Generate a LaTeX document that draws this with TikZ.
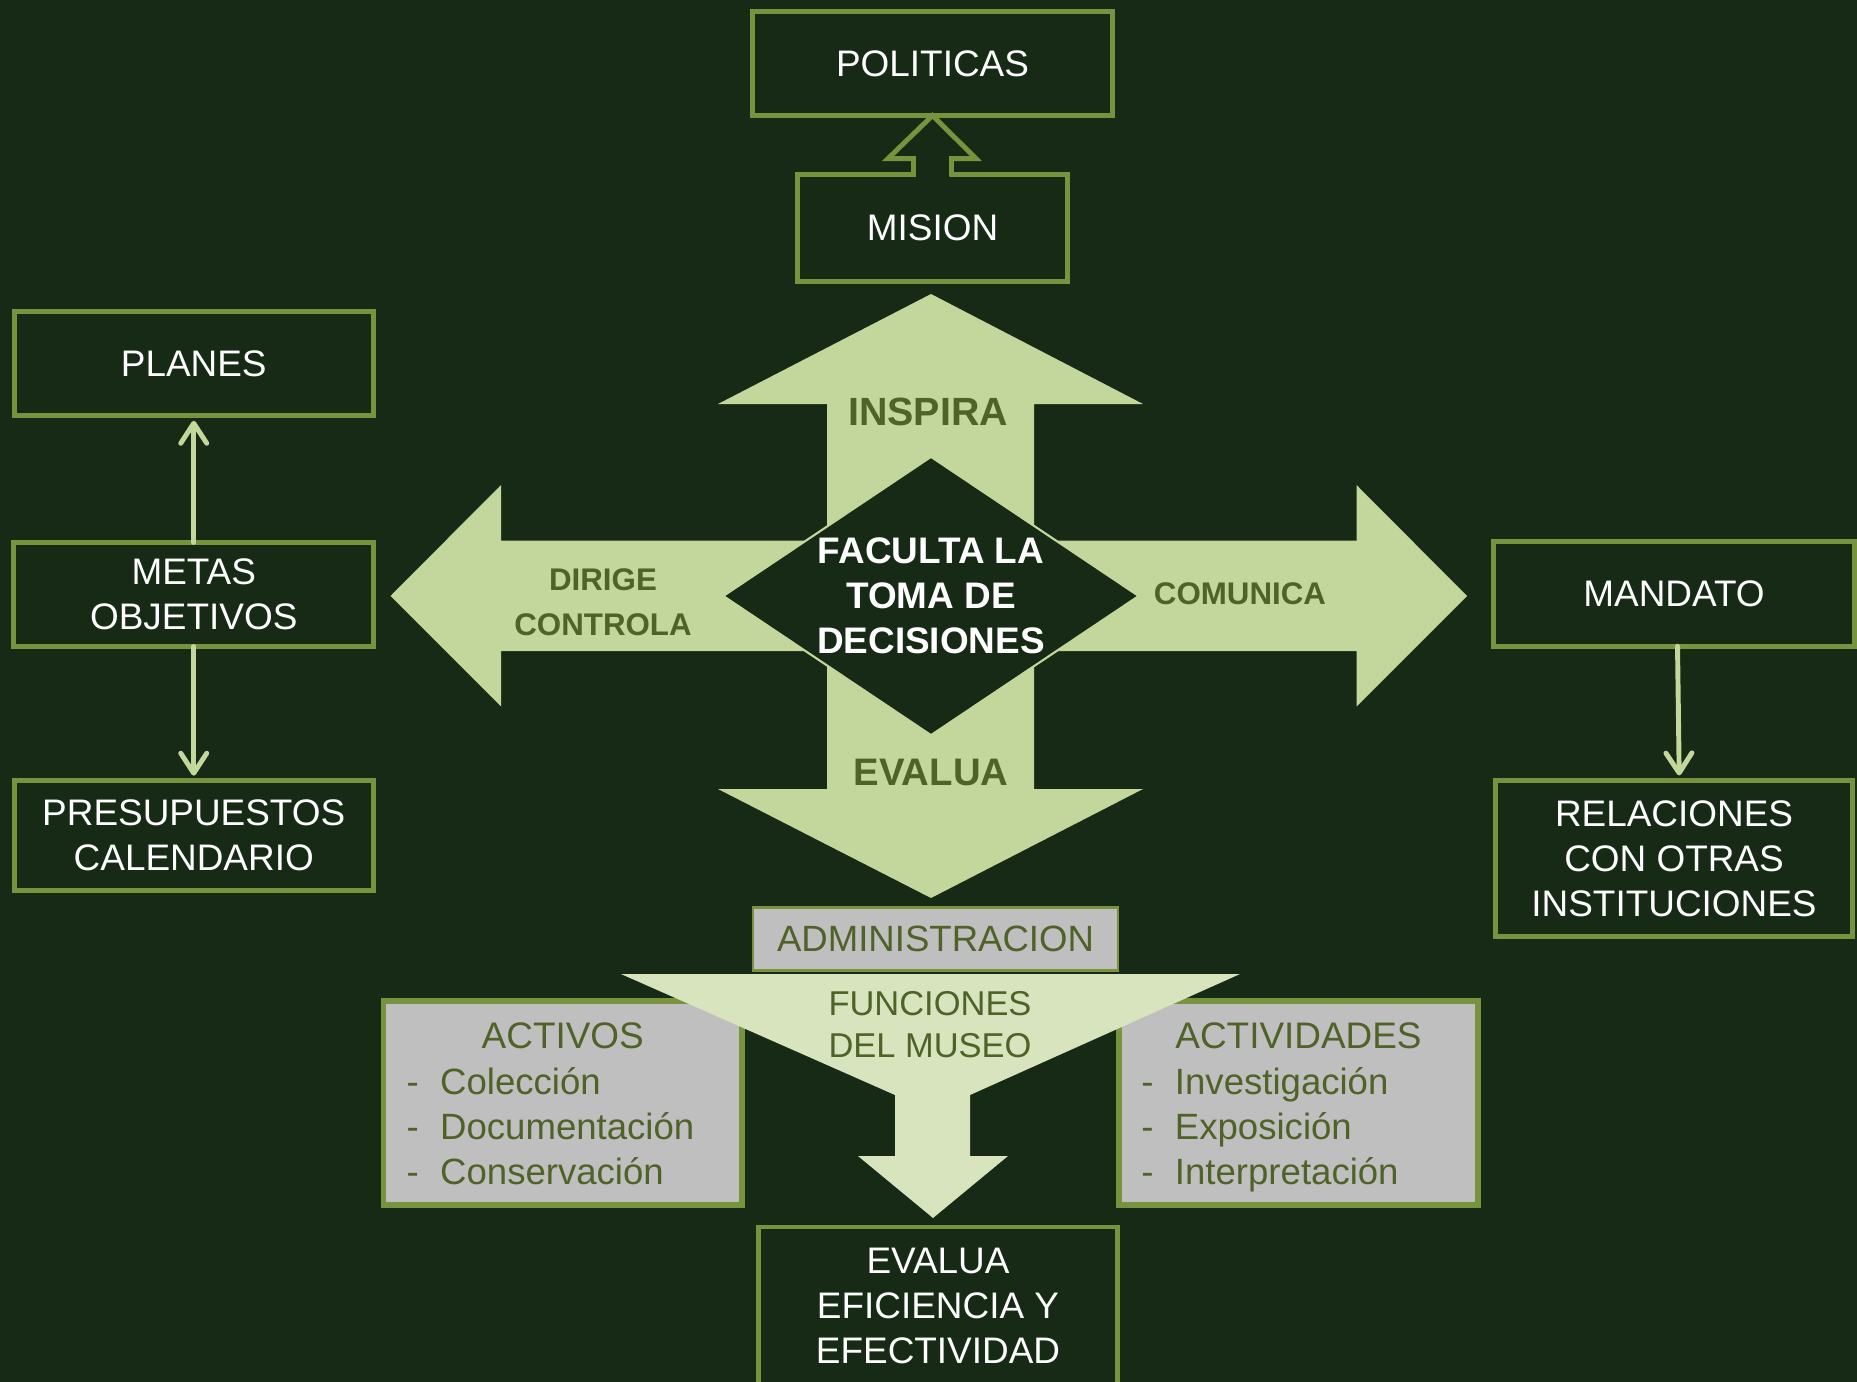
\documentclass[tikz,border=0pt]{standalone}
\usepackage{fontspec}
\setmainfont{Liberation Sans}
\usepackage{xcolor}
\definecolor{bgdark}{RGB}{22,42,22}
\definecolor{olivegreen}{RGB}{119,147,61}
\definecolor{arrowgreen}{RGB}{195,214,155}
\definecolor{funnelgreen}{RGB}{215,228,189}
\definecolor{boxgray}{RGB}{191,191,191}
\definecolor{olivetext}{RGB}{79,98,40}
\usepackage{tikz}
\usetikzlibrary{shapes.geometric,arrows.meta,positioning,calc}

\begin{document}
\begin{tikzpicture}[x=0.01cm,y=-0.01cm,>={Straight Barb[length=2mm,width=2.6mm,round]}]
  \tikzstyle{darkbox}=[rectangle,draw=olivegreen,line width=1.4pt,fill=bgdark,text=white,align=center,inner sep=0pt,outer sep=0pt,font=\fontsize{10.5}{12.8}\selectfont]
  \tikzstyle{graybox}=[rectangle,draw=olivegreen,line width=1.6pt,fill=boxgray,inner sep=0pt,outer sep=0pt,minimum width=3.585cm,minimum height=2.04cm]
  \tikzstyle{arrowlbl}=[text=olivetext,align=center,inner sep=0pt,font=\bfseries\fontsize{8.9}{12.8}\selectfont]
  \tikzstyle{graytxt}=[text=olivetext,inner sep=0pt,font=\fontsize{10.4}{12.8}\selectfont]
  \tikzstyle{link}=[draw=arrowgreen,line width=1.4pt,line cap=round,shorten >=1.4pt]
  \tikzstyle{hollowarrow}=[draw=olivegreen,line width=1.4pt,line join=miter]

  \path[use as bounding box,fill=bgdark] (0,0) rectangle (1857,1382);

  \fill[arrowgreen] (827,596) -- (827,404) -- (718,404) -- (931,294) -- (1143,404) -- (1034,404) -- (1034,596) -- cycle;
  \fill[arrowgreen] (827,596) -- (827,789) -- (718,789) -- (931,898) -- (1143,789) -- (1034,789) -- (1034,596) -- cycle;
  \fill[arrowgreen] (931,540.5) -- (501,540.5) -- (501,485) -- (390.5,596) -- (501,706.5) -- (501,651) -- (931,651) -- cycle;
  \fill[arrowgreen] (931,540.5) -- (1356.5,540.5) -- (1356.5,485) -- (1467,596) -- (1356.5,706.5) -- (1356.5,651) -- (931,651) -- cycle;

  \node[diamond,fill=bgdark,draw=arrowgreen,line width=0.6pt,inner sep=0pt,minimum width=4.16cm,minimum height=2.79cm,shape aspect=1.5,text=white,align=center,font=\bfseries\fontsize{10.5}{12.8}\selectfont] (toma) at (931,596) {FACULTA LA\\TOMA DE\\DECISIONES};

  \node[arrowlbl,font=\bfseries\fontsize{11.2}{13}\selectfont] (inspira) at (928,412) {INSPIRA};
  \node[arrowlbl,font=\bfseries\fontsize{10.9}{13}\selectfont] (evalualbl) at (931,772) {EVALUA};
  \node[arrowlbl] (dirige) at (603,602) {DIRIGE\\CONTROLA};
  \node[arrowlbl] (comunica) at (1240,594) {COMUNICA};

  \node[darkbox,minimum width=3.59cm,minimum height=1.04cm] (politicas) at (932.5,63.5) {POLITICAS};
  \node[darkbox,minimum width=2.69cm,minimum height=1.07cm,below=0.59cm of politicas] (mision) {MISION};

  \node[darkbox,minimum width=3.595cm,minimum height=1.04cm] (metas) at (193.75,594.5) {METAS\\OBJETIVOS};
  \node[darkbox,minimum width=3.59cm,minimum height=1.04cm,above=1.265cm of metas] (planes) {PLANES};
  \node[darkbox,minimum width=3.59cm,minimum height=1.10cm,below=1.34cm of metas] (presup) {PRESUPUESTOS\\CALENDARIO};

  \node[darkbox,minimum width=3.60cm,minimum height=1.045cm] (mandato) at (1674,594) {MANDATO};
  \node[darkbox,minimum width=3.57cm,minimum height=1.56cm,below=1.34cm of mandato] (relac) {RELACIONES\\CON OTRAS\\INSTITUCIONES};

  \fill[bgdark] ($(mision.north)+(-17,-3)$) rectangle ($(mision.north)+(17,4)$);
  \draw[hollowarrow] ($(mision.north)+(19,2)$) -- ++(0,-18) -- ++(24.5,0) -- (politicas.south) -- ($(mision.north)+(-44.5,-16)$) -- ++(25.5,0) -- ++(0,18);

  \draw[link,->] (metas.north) -- (planes.south);
  \draw[link,->] (metas.south) -- (presup.north);
  \draw[link,->] ([xshift=1pt]mandato.south) -- ([xshift=1.5pt]relac.north);

  \node[graybox] (activos) at (562.75,1103) {};
  \node[graybox] (activid) at (1298.5,1103) {};
  \node[graytxt,font=\fontsize{10.5}{12.8}\selectfont,below=0.215cm of activos.north] (activostit) {ACTIVOS};
  \node[graytxt,font=\fontsize{10.5}{12.8}\selectfont,below=0.215cm of activid.north] (actividtit) {ACTIVIDADES};
  \node[graytxt,align=left,anchor=north west] (activoslst) at ($(activos.north west)+(22.5,65.5)$) {-\hspace{6.1pt}Colección\\-\hspace{6.1pt}Documentación\\-\hspace{6.1pt}Conservación};
  \node[graytxt,align=left,anchor=north west] (actividlst) at ($(activid.north west)+(21.5,65.5)$) {-\hspace{6.1pt}Investigación\\-\hspace{6.1pt}Exposición\\-\hspace{6.1pt}Interpretación};

  \fill[funnelgreen] (621,974) -- (1240,974) -- (970,1095) -- (970,1156) -- (1008,1156) -- (933,1218) -- (858,1156) -- (895,1156) -- (895,1095) -- cycle;
  \node[graytxt,align=center,font=\fontsize{9.8}{11.9}\selectfont] (funciones) at (930,1025) {FUNCIONES\\DEL MUSEO};

  \node[rectangle,draw=olivegreen,line width=0.6pt,fill=boxgray,minimum width=3.65cm,minimum height=0.63cm,inner sep=0pt,text=olivetext,font=\fontsize{10.4}{12.8}\selectfont] (admin) at (935.5,939) {ADMINISTRACION};

  \node[darkbox,minimum width=3.58cm,minimum height=1.58cm] (eficiencia) at (938,1306) {EVALUA\\EFICIENCIA Y\\EFECTIVIDAD};
\end{tikzpicture}
\end{document}
